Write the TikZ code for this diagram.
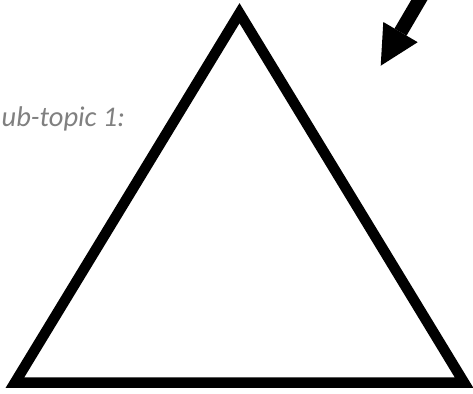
\documentclass[tikz,border=0pt]{standalone}
\usepackage{fontspec}
\setmainfont{Carlito}
\begin{document}
\begin{tikzpicture}[x=1bp,y=-1bp,
  tri/.style={draw=black,line width=10.5bp,line join=miter},
  shaft/.style={draw=black,line width=14bp,line cap=butt},
  head/.style={fill=black},
  lbl/.style={text=black!50,font=\itshape\fontsize{28.5bp}{33bp}\selectfont,inner sep=0pt,anchor=base west}]
\useasboundingbox (0,0) rectangle (473,393);
\coordinate (apex) at (239.5,13.2);
\coordinate (bl) at (15,382.5);
\coordinate (br) at (464,382.5);
\draw[tri] (apex) -- (br) -- (bl) -- cycle;
\coordinate (tail) at (426.3,-11.9);
\coordinate (base) at (400.5,32.1);
\coordinate (barbA) at (417.7,42.2);
\coordinate (barbB) at (383.3,22.0);
\coordinate (tip) at (380.7,65.7);
\draw[shaft] (tail) -- (base);
\fill[head] (barbA) -- (tip) -- (barbB) -- cycle;
\node[lbl] (sub) at (1.5,126.7) {ub-topic 1:};
\end{tikzpicture}
\end{document}
